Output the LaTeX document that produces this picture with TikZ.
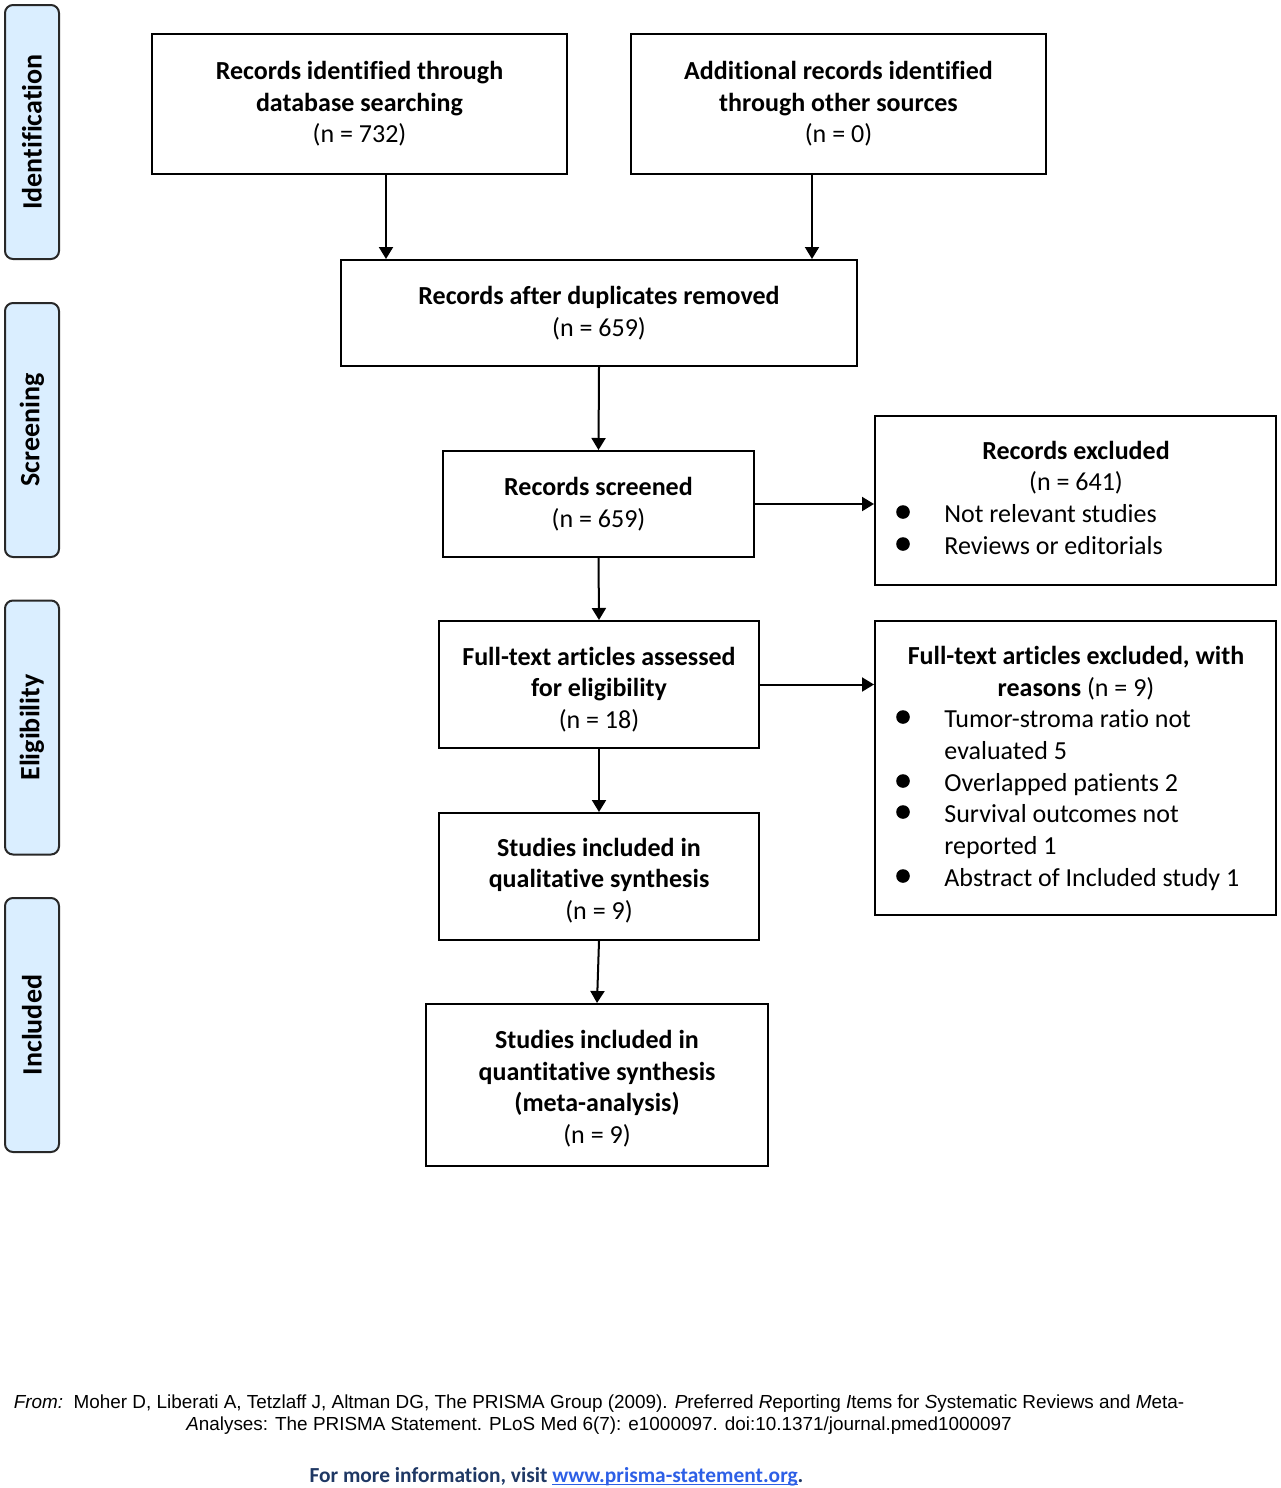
\documentclass[tikz,border=0pt]{standalone}
\usepackage{fontspec}
\setmainfont{Carlito}[Ligatures=NoCommon]
\newfontfamily\arialf{Liberation Sans}
\usetikzlibrary{arrows.meta}
\definecolor{sidefill}{RGB}{218,238,255}
\definecolor{sidedraw}{RGB}{40,40,40}
\definecolor{navy}{RGB}{31,56,100}
\definecolor{linkblue}{RGB}{45,95,230}
\newcommand{\myul}[1]{\setbox0\hbox{#1}\rlap{\rule[-1.6pt]{\wd0}{0.6pt}}\box0}
\begin{document}
\begin{tikzpicture}[x=0.5pt,y=-0.5pt,
  box/.style={draw, line width=1pt, inner sep=0pt, align=center,
    font=\fontsize{13}{15.75}\selectfont},
  side/.style={draw=sidedraw, fill=sidefill, line width=1pt, rounded corners=4pt,
    minimum width=127pt, minimum height=27pt, rotate=90, inner sep=0pt,
    font=\fontsize{14}{16}\selectfont\bfseries},
  txt/.style={inner sep=0pt, align=center, font=\fontsize{13}{15.75}\selectfont},
  bul/.style={circle, fill=black, inner sep=0pt, minimum size=6.8pt},
  arr/.style={line width=1pt, -{Triangle[length=6pt,width=7pt]}}]
\useasboundingbox (0,0) rectangle (1280,1488);

% side labels
\node[side] (s1) at (32,132) {Identification};
\node[side] (s2) at (32,430) {Screening};
\node[side] (s3) at (32,727.5) {Eligibility};
\node[side] (s4) at (32,1025) {Included};

% boxes
\node[box, minimum width=207.5pt, minimum height=70pt] (A) at (359.5,104)
  {\textbf{Records identified through}\\\textbf{database searching}\\(n = 732)};
\node[box, minimum width=207.5pt, minimum height=70pt] (B) at (838.5,104)
  {\textbf{Additional records identified}\\\textbf{through other sources}\\(n = 0)};
\node[box, minimum width=258pt, minimum height=53pt] (C) at (599,313)
  {\textbf{Records after duplicates removed}\\(n = 659)};
\node[box, minimum width=155.5pt, minimum height=53pt] (D) at (598.5,504)
  {\textbf{Records screened}\\(n = 659)};
\node[box, minimum width=200.5pt, minimum height=84.5pt] (E) at (1075.5,500.5) {};
\node[box, minimum width=160pt, minimum height=63.5pt] (F) at (599,684.5) {};
\node[box, minimum width=200.5pt, minimum height=147pt] (G) at (1075.5,768) {};
\node[box, minimum width=160pt, minimum height=63.5pt] (H) at (599,876.5) {};
\node[box, minimum width=171pt, minimum height=81pt] (I) at (597,1085) {};

% texts of F, H, I
\node[txt] (Ft) at ([yshift=-2.5pt]F.center)
  {\textbf{Full-text articles assessed}\\\textbf{for eligibility}\\(n = 18)};
\node[txt] (Ht) at ([yshift=-2pt]H.center)
  {\textbf{Studies included in}\\\textbf{qualitative synthesis}\\(n = 9)};
\node[txt] (It) at ([yshift=-1.8pt]I.center)
  {\textbf{Studies included in}\\\textbf{quantitative synthesis}\\\textbf{(meta-analysis)}\\(n = 9)};

% contents of E
\node[txt, anchor=base] (e1) at (1076,459) {\textbf{Records excluded}};
\node[txt, anchor=base] (e2) at (1076,490) {(n = 641)};
\node[bul] (eb1) at (903,512) {};
\node[txt, anchor=base west] (e3) at (944,522) {Not relevant studies};
\node[bul] (eb2) at (903,544) {};
\node[txt, anchor=base west] (e4) at (944,554) {Reviews or editorials};

% contents of G
\node[txt, anchor=base] (g1) at (1076,664) {\textbf{Full-text articles excluded, with}};
\node[txt, anchor=base] (g2) at (1076,696) {\textbf{reasons} (n = 9)};
\node[bul] (gb1) at (903,717) {};
\node[txt, anchor=base west] (g3) at (944,727) {Tumor-stroma ratio not};
\node[txt, anchor=base west] (g4) at (944,759) {evaluated 5};
\node[bul] (gb2) at (903,781) {};
\node[txt, anchor=base west] (g5) at (944,791) {Overlapped patients 2};
\node[bul] (gb3) at (903,812) {};
\node[txt, anchor=base west] (g6) at (944,822) {Survival outcomes not};
\node[txt, anchor=base west] (g7) at (944,854) {reported 1};
\node[bul] (gb4) at (903,876) {};
\node[txt, anchor=base west] (g8) at (944,886) {Abstract of Included study 1};

% arrows
\coordinate (ax) at (386,0);
\coordinate (bx) at (812,0);
\draw[arr] (A.south -| ax) -- (C.north -| ax);
\draw[arr] (B.south -| bx) -- (C.north -| bx);
\draw[arr] (C.south) -- (D.north);
\draw[arr] (D.east) -- (E.west |- D.east);
\draw[arr] (D.south) -- (F.north);
\draw[arr] (F.east) -- (G.west |- F.east);
\draw[arr] (F.south) -- (H.north);
\draw[arr] (H.south) -- (I.north);

% footer
\node[inner sep=0pt, align=center, font=\arialf\fontsize{9.45}{11}\selectfont, anchor=base] (f1) at (599,1430)
  {\textit{From:}\ \ Moher D, Liberati A, Tetzlaff J, Altman DG, The PRISMA Group (2009). \textit{P}referred \textit{R}eporting \textit{I}tems for \textit{S}ystematic Reviews and \textit{M}eta-\\\textit{A}nalyses: The PRISMA Statement. PLoS Med 6(7): e1000097. doi:10.1371/journal.pmed1000097};
\node[inner sep=0pt, anchor=base, font=\fontsize{10.7}{12}\selectfont\bfseries, text=navy] (f3) at (556.5,1482)
  {For more information, visit \textcolor{linkblue}{\myul{www.prisma-statement.org}}.};
\end{tikzpicture}
\end{document}
